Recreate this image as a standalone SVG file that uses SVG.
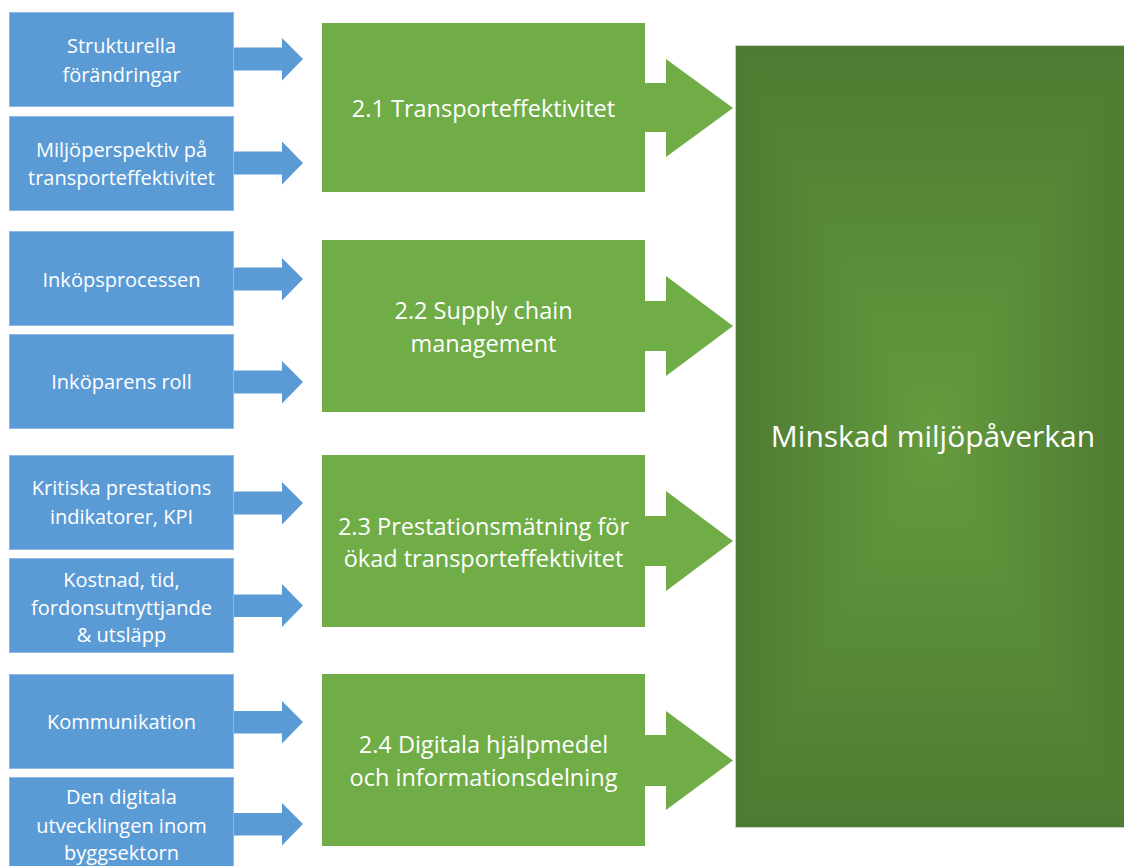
<svg xmlns="http://www.w3.org/2000/svg" width="1124" height="866" viewBox="0 0 1124 866">
  <style>
    .blue { fill: #5B9BD5; stroke: #8DB9E3; stroke-width: 1; }
    .green { fill: #70AD47; }
    .barrow { fill: #5B9BD5; }
    .garrow { fill: #70AD47; }
    .t { font-family: "Open Sans", "Noto Sans", "Liberation Sans", sans-serif; fill: #FFFFFF; text-anchor: middle; }
    .tb { font-size: 20px; }
    .tg { font-size: 23.5px; }
    .tm { font-size: 30px; }
  </style>
  <defs>
    <linearGradient id="gTop" gradientUnits="userSpaceOnUse" x1="0" y1="45" x2="0" y2="436.5">
      <stop offset="0" stop-color="#4F7A32"/>
      <stop offset="1" stop-color="#649C3E"/>
    </linearGradient>
    <linearGradient id="gBot" gradientUnits="userSpaceOnUse" x1="0" y1="828" x2="0" y2="436.5">
      <stop offset="0" stop-color="#4F7A32"/>
      <stop offset="1" stop-color="#649C3E"/>
    </linearGradient>
    <linearGradient id="gLeft" gradientUnits="userSpaceOnUse" x1="735" y1="0" x2="932.5" y2="0">
      <stop offset="0" stop-color="#4F7A32"/>
      <stop offset="1" stop-color="#649C3E"/>
    </linearGradient>
    <linearGradient id="gRight" gradientUnits="userSpaceOnUse" x1="1130" y1="0" x2="932.5" y2="0">
      <stop offset="0" stop-color="#4F7A32"/>
      <stop offset="1" stop-color="#649C3E"/>
    </linearGradient>
  </defs>
  <rect width="1124" height="866" fill="#FFFFFF"/>

  <!-- Left blue nodes -->
  <g id="n-strukturella">
    <rect class="blue" x="9.5" y="12.5" width="224" height="94"/>
    <text class="t tb" x="121.5" y="53">Strukturella</text>
    <text class="t tb" x="121.5" y="82">förändringar</text>
  </g>
  <g id="n-miljoperspektiv">
    <rect class="blue" x="9.5" y="116.5" width="224" height="94"/>
    <text class="t tb" x="121.5" y="157">Miljöperspektiv på</text>
    <text class="t tb" x="121.5" y="185">transporteffektivitet</text>
  </g>
  <g id="n-inkopsprocessen">
    <rect class="blue" x="9.5" y="231.5" width="224" height="94"/>
    <text class="t tb" x="121.5" y="287">Inköpsprocessen</text>
  </g>
  <g id="n-inkoparens-roll">
    <rect class="blue" x="9.5" y="334.5" width="224" height="94"/>
    <text class="t tb" x="121.5" y="389">Inköparens roll</text>
  </g>
  <g id="n-kpi">
    <rect class="blue" x="9.5" y="455.5" width="224" height="94"/>
    <text class="t tb" x="121.5" y="495">Kritiska prestations</text>
    <text class="t tb" x="121.5" y="524">indikatorer, KPI</text>
  </g>
  <g id="n-kostnad">
    <rect class="blue" x="9.5" y="558.5" width="224" height="94"/>
    <text class="t tb" x="121.5" y="587">Kostnad, tid,</text>
    <text class="t tb" x="121.5" y="615">fordonsutnyttjande</text>
    <text class="t tb" x="121.5" y="642">&amp; utsläpp</text>
  </g>
  <g id="n-kommunikation">
    <rect class="blue" x="9.5" y="674.5" width="224" height="94"/>
    <text class="t tb" x="121.5" y="729">Kommunikation</text>
  </g>
  <g id="n-digitala-utvecklingen">
    <rect class="blue" x="9.5" y="777.5" width="224" height="94"/>
    <text class="t tb" x="121.5" y="804">Den digitala</text>
    <text class="t tb" x="121.5" y="833">utvecklingen inom</text>
    <text class="t tb" x="121.5" y="860">byggsektorn</text>
  </g>

  <!-- Connectors -->
  <g id="connectors">
    <path class="barrow" d="M234 47.5 H282 V38 L303 59 L282 80.5 V70.5 H234 Z"/>
    <path class="barrow" d="M234 151.5 H282 V141.5 L303 163 L282 184.5 V174.5 H234 Z"/>
    <path class="barrow" d="M234 267.5 H282 V258 L303 279 L282 300.5 V290.5 H234 Z"/>
    <path class="barrow" d="M234 370.5 H282 V361 L303 382 L282 403.5 V393.5 H234 Z"/>
    <path class="barrow" d="M234 491.5 H282 V482 L303 503 L282 524.5 V514.5 H234 Z"/>
    <path class="barrow" d="M234 594.5 H282 V584 L303 605.5 L282 627 V617 H234 Z"/>
    <path class="barrow" d="M234 711 H282 V701 L303 722 L282 743.5 V733.5 H234 Z"/>
    <path class="barrow" d="M234 813 H282 V803 L303 824 L282 845.5 V835.5 H234 Z"/>

    <path class="garrow" d="M644 83 H666 V59 L733 108 L666 157 V132 H644 Z"/>
    <path class="garrow" d="M644 301 H666 V276 L733 326 L666 376 V351 H644 Z"/>
    <path class="garrow" d="M644 516 H666 V491 L733 541 L666 591 V566 H644 Z"/>
    <path class="garrow" d="M644 735 H666 V711 L733 760.5 L666 810 V786 H644 Z"/>
  </g>

  <!-- Middle green nodes -->
  <g id="n-2-1">
    <rect class="green" x="322" y="23" width="323" height="169"/>
    <text class="t tg" x="483.5" y="117">2.1 Transporteffektivitet</text>
  </g>
  <g id="n-2-2">
    <rect class="green" x="322" y="240" width="323" height="172"/>
    <text class="t tg" x="483.5" y="319">2.2 Supply chain</text>
    <text class="t tg" x="483.5" y="352">management</text>
  </g>
  <g id="n-2-3">
    <rect class="green" x="322" y="455" width="323" height="172"/>
    <text class="t tg" x="483.5" y="535">2.3 Prestationsmätning för</text>
    <text class="t tg" x="483.5" y="567">ökad transporteffektivitet</text>
  </g>
  <g id="n-2-4">
    <rect class="green" x="322" y="674" width="323" height="172"/>
    <text class="t tg" x="483.5" y="753">2.4 Digitala hjälpmedel</text>
    <text class="t tg" x="483.5" y="786">och informationsdelning</text>
  </g>

  <!-- Right big node -->
  <g id="n-minskad-miljopaverkan">
    <rect x="735" y="45" width="395" height="783" fill="#5A8C39"/>
    <polygon points="735,45 1130,45 932.5,436.5" fill="url(#gTop)"/>
    <polygon points="735,828 1130,828 932.5,436.5" fill="url(#gBot)"/>
    <polygon points="735,45 735,828 932.5,436.5" fill="url(#gLeft)"/>
    <polygon points="1130,45 1130,828 932.5,436.5" fill="url(#gRight)"/>
    <rect x="735.5" y="45.5" width="395" height="782" fill="none" stroke="#C9D3C3" stroke-width="1"/>
    <text class="t tm" x="933" y="447">Minskad miljöpåverkan</text>
  </g>
</svg>
